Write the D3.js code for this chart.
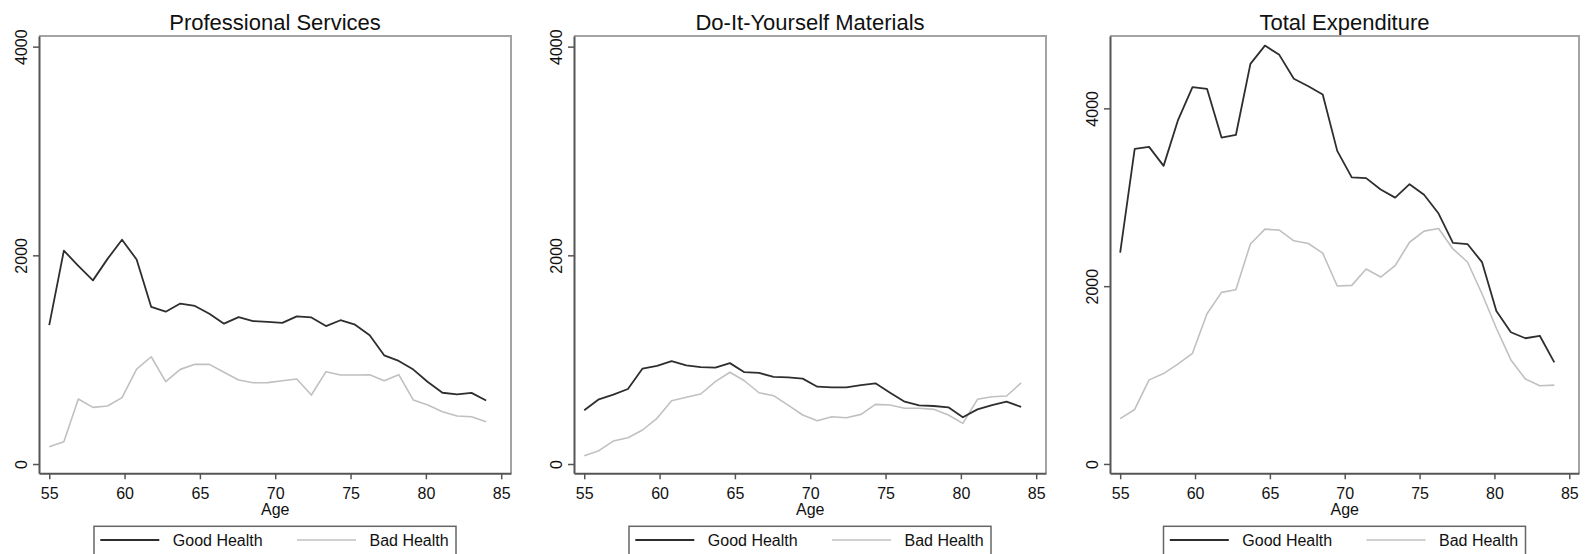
<!DOCTYPE html>
<html>
<head>
<meta charset="utf-8">
<script src="https://cdn.jsdelivr.net/npm/d3@7"></script>
<style>
  html, body { margin: 0; padding: 0; background: #fff; }
  svg { display: block; font-family: "Liberation Sans", Arial, sans-serif; }
</style>
</head>
<body>
<svg id="chart" width="1593" height="554"></svg>
<script>
const ages = [55.0, 55.97, 56.93, 57.9, 58.87, 59.83, 60.8, 61.77, 62.73, 63.7, 64.67,
  65.63, 66.6, 67.57, 68.53, 69.5, 70.47, 71.43, 72.4, 73.37, 74.33, 75.3, 76.27,
  77.23, 78.2, 79.17, 80.13, 81.1, 82.07, 83.03, 84.0];

const xTicks = [55, 60, 65, 70, 75, 80, 85];
const yTicks = [0, 2000, 4000];
const seriesNames = ["Good Health", "Bad Health"];

const proGood = [1331, 2045, 1900, 1760, 1966, 2150, 1960, 1505, 1460, 1538, 1515,
  1440, 1345, 1408, 1370, 1362, 1352, 1415, 1405, 1322, 1378, 1335, 1235, 1042,
  988, 905, 786, 683, 667, 682, 608];
const proBad = [166, 214, 623, 543, 556, 636, 910, 1028, 789, 907, 955, 955, 879,
  805, 779, 780, 798, 815, 661, 885, 853, 853, 856, 798, 856, 613, 565, 501, 460,
  453, 405];

const diyGood = [515, 620, 665, 719, 915, 940, 987, 945, 929, 923, 967, 880, 873,
  835, 831, 818, 741, 735, 735, 757, 773, 683, 597, 562, 556, 543, 448, 524, 565,
  597, 547];
const diyBad = [80, 128, 220, 252, 326, 438, 607, 639, 671, 789, 879, 798, 683,
  655, 565, 470, 415, 453, 444, 476, 572, 565, 534, 534, 524, 470, 390, 620, 645,
  652, 777];

const totGood = [2376, 3544, 3567, 3353, 3871, 4240, 4220, 3672, 3701, 4500, 4706,
  4602, 4333, 4248, 4155, 3522, 3223, 3215, 3088, 2996, 3147, 3028, 2817, 2486,
  2474, 2271, 1721, 1482, 1414, 1442, 1143];
const totBad = [510, 613, 946, 1017, 1125, 1245, 1690, 1930, 1960, 2475, 2642,
  2630, 2510, 2480, 2372, 2002, 2009, 2193, 2103, 2231, 2494, 2619, 2649, 2419,
  2272, 1915, 1527, 1170, 955, 880, 887];

const panels = [
  { title: "Professional Services", good: proGood, bad: proBad, left: 39, right: 511, yTop: 4102, yBottom: -89 },
  { title: "Do-It-Yourself Materials", good: diyGood, bad: diyBad, left: 574, right: 1046, yTop: 4102, yBottom: -89 },
  { title: "Total Expenditure", good: totGood, bad: totBad, left: 1110, right: 1579, yTop: 4814, yBottom: -105 },
];

const frameTop = 36;
const frameBottom = 473.3;
const goodColor = "#2e2e2e";
const badColor = "#c0c0c0";
const axisColor = "#555";
const svg = d3.select("#chart");

function drawPanel(panel) {
  const g = svg.append("g");

  const x = d3.scaleLinear().domain([54.32, 85.65]).range([panel.left, panel.right]);
  const y = d3.scaleLinear().domain([panel.yBottom, panel.yTop]).range([frameBottom, frameTop]);

  // light frame on top and right
  g.append("path")
    .attr("d", `M${panel.left},${frameTop}H${panel.right}V${frameBottom}`)
    .attr("fill", "none")
    .attr("stroke", "#a3a3a3")
    .attr("stroke-width", 2);

  const xAxis = g.append("g")
    .attr("transform", `translate(0,${frameBottom})`)
    .call(d3.axisBottom(x).tickValues(xTicks).tickSize(6).tickSizeOuter(0).tickPadding(6));
  const yAxis = g.append("g")
    .attr("transform", `translate(${panel.left},0)`)
    .call(d3.axisLeft(y).tickValues(yTicks).tickSize(6).tickSizeOuter(0).tickFormat(d3.format("d")));

  [xAxis, yAxis].forEach((axis) => {
    axis.select(".domain").attr("stroke", axisColor).attr("stroke-width", 2);
    axis.selectAll(".tick line").attr("stroke", axisColor).attr("stroke-width", 1.5);
    axis.selectAll("text")
      .attr("fill", "#111")
      .attr("font-size", 16)
      .attr("font-family", "Liberation Sans, Arial, sans-serif");
  });

  xAxis.selectAll("text").attr("dy", null).attr("y", 25.8);

  yAxis.selectAll("text")
    .attr("x", null)
    .attr("dy", null)
    .attr("text-anchor", "middle")
    .attr("transform", "translate(-12.3,0) rotate(-90)");

  g.append("text")
    .attr("x", x(70))
    .attr("y", 514.6)
    .attr("text-anchor", "middle")
    .attr("fill", "#111")
    .attr("font-size", 16)
    .text("Age");

  g.append("text")
    .attr("x", (panel.left + panel.right) / 2)
    .attr("y", 29.5)
    .attr("text-anchor", "middle")
    .attr("fill", "#111")
    .attr("font-size", 22)
    .text(panel.title);

  const line = d3.line()
    .x((d, i) => x(ages[i]))
    .y((d) => y(d));

  g.append("path")
    .datum(panel.bad)
    .attr("fill", "none")
    .attr("stroke", badColor)
    .attr("stroke-width", 1.6)
    .attr("stroke-linejoin", "round")
    .attr("d", line);

  g.append("path")
    .datum(panel.good)
    .attr("fill", "none")
    .attr("stroke", goodColor)
    .attr("stroke-width", 1.8)
    .attr("stroke-linejoin", "round")
    .attr("d", line);

  // legend
  const legendWidth = 362;
  const lx = (panel.left + panel.right) / 2 - legendWidth / 2;
  const legend = g.append("g").attr("transform", `translate(${lx},526.3)`);

  legend.append("rect")
    .attr("width", legendWidth)
    .attr("height", 40)
    .attr("fill", "#fff")
    .attr("stroke", "#666")
    .attr("stroke-width", 1.5);

  const keys = [
    { name: seriesNames[0], color: goodColor, width: 1.8, offset: 6.3 },
    { name: seriesNames[1], color: badColor, width: 1.6, offset: 203 },
  ];

  keys.forEach((key) => {
    legend.append("line")
      .attr("x1", key.offset)
      .attr("x2", key.offset + 59)
      .attr("y1", 13.7)
      .attr("y2", 13.7)
      .attr("stroke", key.color)
      .attr("stroke-width", key.width);

    legend.append("text")
      .attr("x", key.offset + 72.5)
      .attr("y", 19.5)
      .attr("fill", "#111")
      .attr("font-size", 16)
      .text(key.name);
  });
}

panels.forEach(drawPanel);
</script>
</body>
</html>
